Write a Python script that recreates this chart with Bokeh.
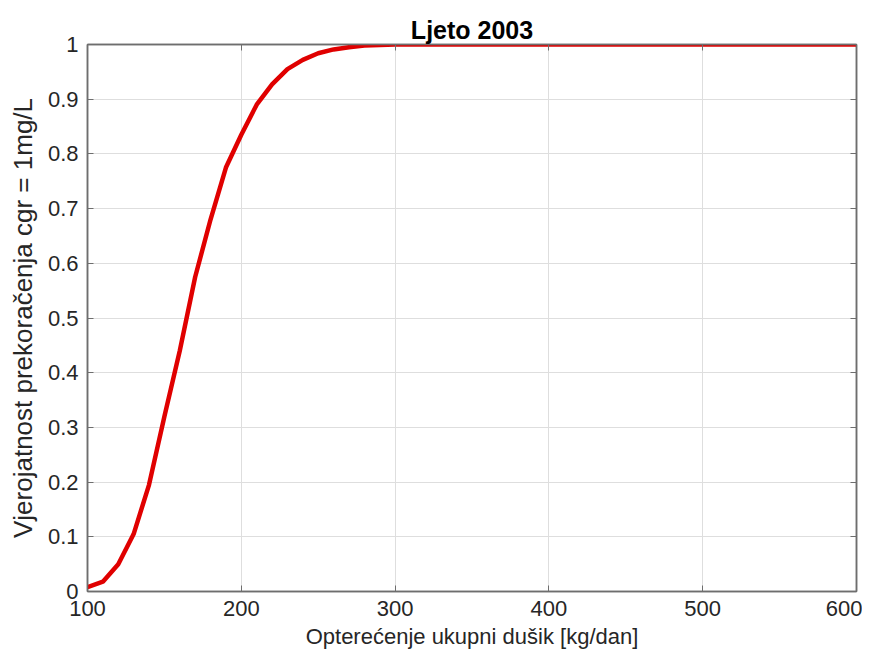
from bokeh.plotting import figure
from bokeh.models import LinearAxis, FixedTicker, CustomJSTickFormatter, Range1d
from bokeh.embed import file_html
from bokeh.resources import INLINE

# Data
load_kg_per_day = [100, 110, 120, 130, 140, 150, 160, 170, 180, 190, 200,
                   210, 220, 230, 240, 250, 260, 270, 280, 290, 300,
                   350, 400, 450, 500, 550, 600]
exceed_prob = [0.008, 0.018, 0.05, 0.105, 0.195, 0.32, 0.44, 0.575, 0.68, 0.775, 0.835,
               0.89, 0.927, 0.955, 0.972, 0.984, 0.991, 0.995, 0.998, 0.999, 1.0,
               1.0, 1.0, 1.0, 1.0, 1.0, 1.0]
x_ticks = [100, 200, 300, 400, 500, 600]
y_ticks = [0, 0.1, 0.2, 0.3, 0.4, 0.5, 0.6, 0.7, 0.8, 0.9, 1.0]

FONT = "Liberation Sans"
AX = "#6e6e6e"
TXT = "#262626"
FS = "22px"

p = figure(width=862, height=652, output_backend="svg", toolbar_location=None,
           x_range=Range1d(100, 600), y_range=Range1d(0, 1),
           min_border_left=87, min_border_right=6, min_border_top=44, min_border_bottom=61,
           x_axis_label="Opterećenje ukupni dušik [kg/dan]",
           y_axis_label="Vjerojatnost prekoračenja cgr = 1mg/L")

p.title.text = "Ljeto 2003"
p.title.align = "center"
p.title.text_font = FONT
p.title.text_font_size = "25px"
p.title.text_font_style = "bold"
p.title.text_color = "black"
p.title.offset = 0
p.title.standoff = 2

p.outline_line_color = AX
p.outline_line_width = 1.5
p.background_fill_color = "white"
p.border_fill_color = "white"

fmt = CustomJSTickFormatter(code="return (Math.round(tick*10)/10).toString();")
blank = CustomJSTickFormatter(code="return '';")

for ax in p.xaxis:
    ax.ticker = FixedTicker(ticks=x_ticks)
for ax in p.yaxis:
    ax.ticker = FixedTicker(ticks=y_ticks)
    ax.formatter = fmt

for ax in list(p.xaxis) + list(p.yaxis):
    ax.axis_line_color = AX
    ax.axis_line_width = 1.5
    ax.major_tick_line_color = AX
    ax.major_tick_in = 6
    ax.major_tick_out = 0
    ax.minor_tick_line_color = None
    ax.major_label_text_font = FONT
    ax.major_label_text_font_size = FS
    ax.major_label_text_color = TXT
    ax.axis_label_text_font = FONT
    ax.axis_label_text_font_size = FS
    ax.axis_label_text_font_style = "normal"
    ax.axis_label_text_color = TXT

p.xaxis.major_label_standoff = 9
p.xaxis.axis_label_standoff = 5
p.yaxis.major_label_standoff = 9
p.yaxis.axis_label_standoff = 7
p.yaxis.axis_label_text_font_size = "26px"

top = LinearAxis(ticker=FixedTicker(ticks=x_ticks), formatter=blank,
                 major_tick_in=6, major_tick_out=0, minor_tick_line_color=None,
                 axis_line_color=AX, axis_line_width=1.5, major_tick_line_color=AX,
                 major_label_standoff=0)
right = LinearAxis(ticker=FixedTicker(ticks=y_ticks), formatter=blank,
                   major_tick_in=6, major_tick_out=0, minor_tick_line_color=None,
                   axis_line_color=AX, axis_line_width=1.5, major_tick_line_color=AX,
                   major_label_standoff=0)
p.add_layout(top, "above")
p.add_layout(right, "right")

p.grid.grid_line_color = "#dedede"
p.grid.grid_line_width = 1
p.xgrid.ticker = FixedTicker(ticks=x_ticks)
p.ygrid.ticker = FixedTicker(ticks=y_ticks)

p.line(load_kg_per_day, exceed_prob, line_color="#e00000", line_width=4.5)

open("out.html", "w").write(file_html(p, INLINE))
